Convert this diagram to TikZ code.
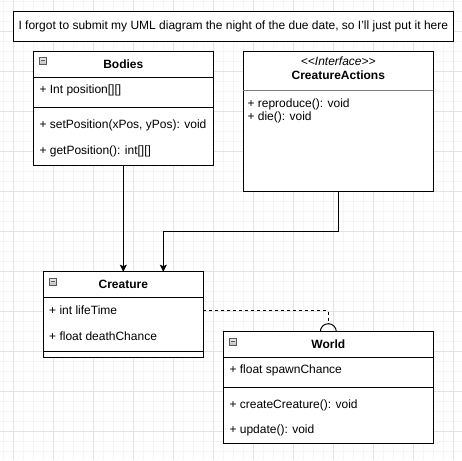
\documentclass[tikz,border=0pt]{standalone}
\usepackage{fontspec}
\setmainfont{Liberation Sans}
\usetikzlibrary{arrows.meta,positioning,calc}
\tikzstyle{umlbox}=[draw, line width=1pt, fill=white, inner sep=0pt,
  outer sep=0pt, anchor=north west]
\tikzstyle{umlname}=[font=\bfseries\fontsize{12}{14}\selectfont, inner sep=0pt]
\tikzstyle{member}=[font=\fontsize{12}{14}\selectfont, anchor=west, inner sep=0pt]
\tikzstyle{divider}=[draw, line width=1pt]
\tikzstyle{line}=[draw, line width=1pt, -{Stealth[length=7pt,width=7pt,inset=1.5pt]}]
\tikzstyle{fold}=[draw=gray!70!black, line width=0.6pt, top color=gray!15,
  bottom color=gray!50, minimum size=7pt, inner sep=0pt, anchor=north west,
  path picture={\draw[line width=0.8pt] ([xshift=1.5pt]path picture bounding box.west)
  -- ([xshift=-1.5pt]path picture bounding box.east);}]
\newcommand{\fold}[2]{node (#1)[fold] at #2 {}}

\begin{document}
\begin{tikzpicture}[x=1pt,y=-1pt]

	% Background grid
	\useasboundingbox (0,0) rectangle (462,460);
	\fill[white] (0,0) rectangle (462,460);
	\foreach \g in {3.3,13.3,...,463}
		\draw[gray!8, line width=0.8pt] (\g,0) -- (\g,460);
	\foreach \g in {1.7,11.7,...,461}
		\draw[gray!8, line width=0.8pt] (0,\g) -- (462,\g);
	\foreach \g in {13.3,53.3,...,463}
		\draw[gray!22, line width=0.8pt] (\g,0) -- (\g,460);
	\foreach \g in {31.7,71.7,...,461}
		\draw[gray!22, line width=0.8pt] (0,\g) -- (462,\g);

	% Note
	\node[draw, line width=1pt, fill=white, minimum width=440pt, minimum height=29.3pt,
		inner sep=0pt, font=\fontsize{12}{14}\selectfont] (note) at (233.3,26.5)
		{I forgot to submit my UML diagram the night of the due date, so I'll just put it here};

	% Bodies
	\node[umlbox, minimum width=180pt, minimum height=114pt] (bodies) at (33.3,51) {};
	\path \fold{bodiesfold}{(39.3,57)};
	\node[umlname] (bodiesname) at (123.3,64.3) {Bodies};
	\path[divider] (bodies.west |- 0,77.7) -- (bodies.east |- 0,77.7);
	\node[member] (bodiespos) at (39.3,90) {+ Int position[][]};
	\path[divider] (bodies.west |- 0,107) -- (bodies.east |- 0,107);
	\node[member] (bodiesset) at (39.3,125) {+ setPosition(xPos, yPos): void};
	\node[member] (bodiesget) at (39.3,151) {+ getPosition(): int[][]};

	% CreatureActions
	\node[umlbox, minimum width=190pt, minimum height=140pt] (actions) at (243.3,51) {};
	\node[inner sep=0pt, font=\itshape\fontsize{12}{14}\selectfont] (actionsstereo)
		at (338.3,61) {<{}<Interface>{}>};
	\node[umlname] (actionsname) at (338.3,75.7) {CreatureActions};
	\path[divider, draw=gray] (actions.west |- 0,90) -- (actions.east |- 0,90);
	\node[member] (actionsrep) at (247.3,104) {+ reproduce(): void};
	\node[member] (actionsdie) at (247.3,117.3) {+ die(): void};

	% Creature
	\node[umlbox, minimum width=160pt, minimum height=85.3pt] (creature) at (43.3,271.7) {};
	\path \fold{creaturefold}{(49.3,277.7)};
	\node[umlname] (creaturename) at (123.3,284.3) {Creature};
	\path[divider] (creature.west |- 0,297.3) -- (creature.east |- 0,297.3);
	\node[member] (creaturelife) at (49,310.7) {+ int lifeTime};
	\node[member] (creaturedeath) at (49,336.7) {+ float deathChance};
	\path[divider] (creature.west |- 0,351.7) -- (creature.east |- 0,351.7);

	% World
	\node[umlbox, minimum width=210pt, minimum height=111.7pt] (world) at (223.3,331.7) {};
	\path \fold{worldfold}{(229.3,337.7)};
	\node[umlname] (worldname) at (328.3,344) {World};
	\path[divider] (world.west |- 0,357.3) -- (world.east |- 0,357.3);
	\node[member] (worldspawn) at (229.3,370.7) {+ float spawnChance};
	\path[divider] (world.west |- 0,387.7) -- (world.east |- 0,387.7);
	\node[member] (worldcreate) at (229.3,405) {+ createCreature(): void};
	\node[member] (worldupdate) at (229.3,430.7) {+ update(): void};

	% Connectors
	\path [line] (bodies.south) -- (creature.north);
	\path [line] (actions.south) -- ++(0,40) -| ($(creature.north)!0.5!(creature.north east)$);
	\draw [line width=1pt, dash pattern=on 3pt off 3pt] (creature.east |- creaturelife)
		-| ($(world.north)+(0,-8)$);
	\draw [line width=1pt] ($(world.north)+(-8,0)$) arc[start angle=180, end angle=0, radius=8pt];

\end{tikzpicture}
\end{document}
